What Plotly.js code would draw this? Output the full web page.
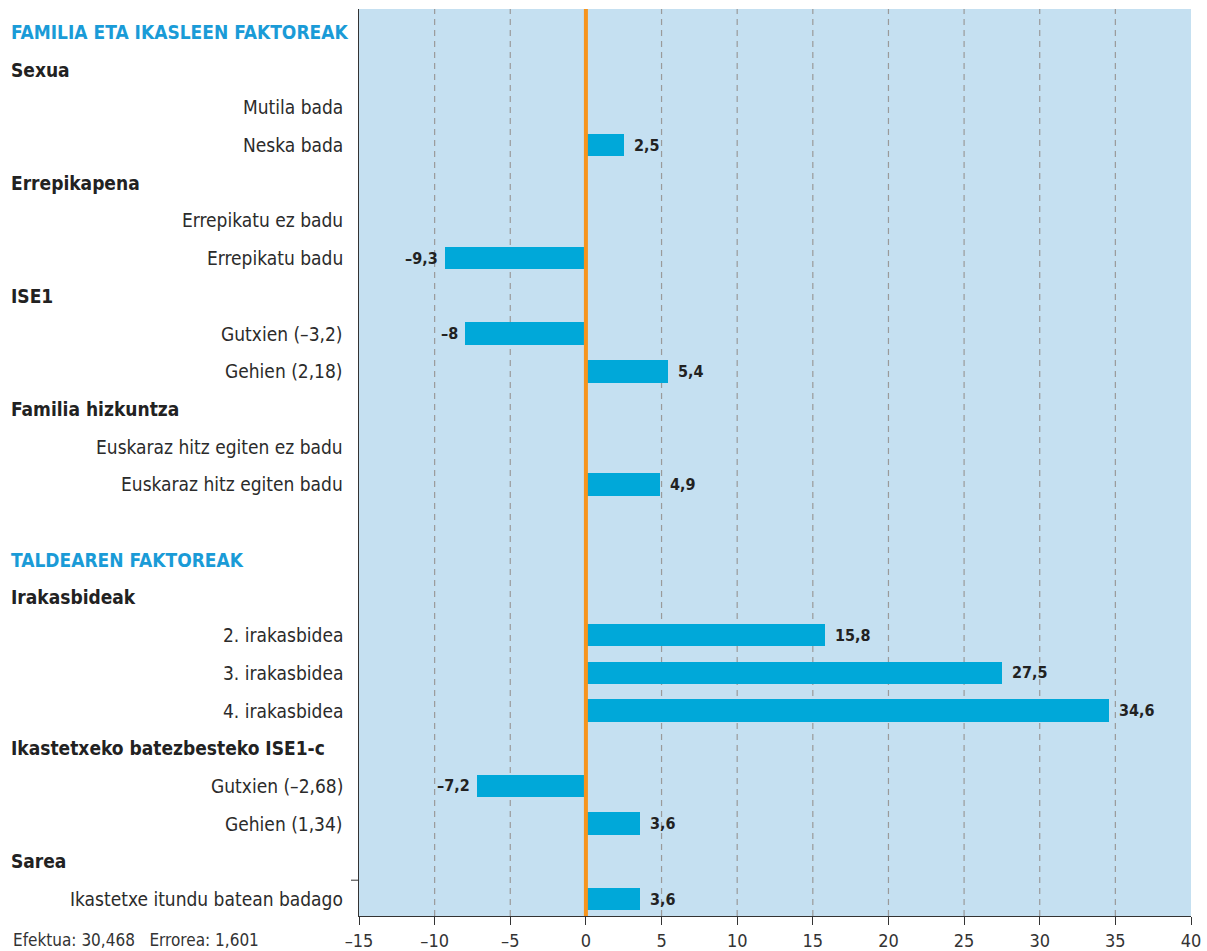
<!DOCTYPE html>
<html>
<head>
<meta charset="utf-8">
<script src="https://cdn.plot.ly/plotly-3.0.1.min.js"></script>
<style>html,body{margin:0;padding:0;background:#fff;}#chart{width:1207px;height:951px;}</style>
</head>
<body>
<div id="chart"></div>
<script>
// Row labels (top to bottom) and their kinds
const rowLabels = [
  "FAMILIA ETA IKASLEEN FAKTOREAK", "Sexua", "Mutila bada", "Neska bada",
  "Errepikapena", "Errepikatu ez badu", "Errepikatu badu",
  "ISE1", "Gutxien (–3,2)", "Gehien (2,18)",
  "Familia hizkuntza", "Euskaraz hitz egiten ez badu", "Euskaraz hitz egiten badu",
  "",
  "TALDEAREN FAKTOREAK", "Irakasbideak", "2. irakasbidea", "3. irakasbidea", "4. irakasbidea",
  "Ikastetxeko batezbesteko ISE1-c", "Gutxien (–2,68)", "Gehien (1,34)",
  "Sarea", "Ikastetxe itundu batean badago"
];
const rowKinds = [
  "section", "group", "item", "item",
  "group", "item", "item",
  "group", "item", "item",
  "group", "item", "item",
  "blank",
  "section", "group", "item", "item", "item",
  "group", "item", "item",
  "group", "item"
];
const effectValues = [
  null, null, null, 2.5,
  null, null, -9.3,
  null, -8, 5.4,
  null, null, 4.9,
  null,
  null, null, 15.8, 27.5, 34.6,
  null, -7.2, 3.6,
  null, 3.6
];
const xTickVals = [-15, -10, -5, 0, 5, 10, 15, 20, 25, 30, 35, 40];
const footnote = "Efektua: 30,468   Errorea: 1,601";

const FONT = '"Liberation Sans Narrow", "DejaVu Sans Condensed", "Arial Narrow", sans-serif';
const fmt = v => String(v).replace('.', ',').replace('-', '–');

const barY = [], barX = [];
effectValues.forEach((v, i) => { if (v !== null) { barY.push(i); barX.push(v); } });

const trace = {
  type: 'bar', orientation: 'h',
  x: barX, y: barY, width: 0.6,
  marker: {color: '#00a8d9', line: {width: 0}},
  hoverinfo: 'skip'
};

const annotations = [];
rowLabels.forEach((lab, i) => {
  const k = rowKinds[i];
  if (k === 'blank') return;
  if (k === 'item') {
    annotations.push({xref: 'paper', yref: 'y', x: 0, y: i, xanchor: 'right', yanchor: 'middle',
      xshift: -14, text: lab, showarrow: false, font: {family: FONT, size: 19, color: '#2b2b2b'}});
  } else {
    annotations.push({xref: 'paper', yref: 'y', x: (9 - 359) / 832, y: i, xanchor: 'left', yanchor: 'middle',
      text: '<b>' + lab + '</b>', showarrow: false,
      font: {family: FONT, size: 19, color: k === 'section' ? '#1a9bd7' : '#222'}});
  }
});
barY.forEach((y, j) => {
  const v = barX[j];
  annotations.push({xref: 'x', yref: 'y', x: v, y: y, xanchor: v < 0 ? 'right' : 'left', yanchor: 'middle',
    xshift: v < 0 ? -5 : 8, text: '<b>' + fmt(v) + '</b>', showarrow: false,
    font: {family: FONT, size: 16, color: '#222'}});
});
annotations.push({xref: 'paper', yref: 'paper', x: (11 - 359) / 832, y: 0, yshift: -24, xanchor: 'left', yanchor: 'middle',
  text: footnote.replace(/ {3}/, '&nbsp;&nbsp;&nbsp;'), showarrow: false, font: {family: FONT, size: 17, color: '#333'}});

const shapes = [];
xTickVals.forEach(v => {
  if (v === -15 || v === 0 || v === 40) return;
  shapes.push({type: 'line', xref: 'x', yref: 'paper', x0: v, x1: v, y0: 0, y1: 1,
    line: {color: '#9a9a9a', width: 1.2, dash: '6px,5px'}, layer: 'below'});
});
shapes.push({type: 'line', xref: 'x', yref: 'paper', x0: 0, x1: 0, y0: 0, y1: 1,
  line: {color: '#f7941d', width: 4}, layer: 'above'});
shapes.push({type: 'line', xref: 'paper', yref: 'y', x0: -8 / 832, x1: 0, y0: 22.5, y1: 22.5,
  line: {color: '#333', width: 1}});

const layout = {
  width: 1207, height: 951,
  margin: {l: 359, r: 16, t: 9, b: 35},
  paper_bgcolor: '#ffffff', plot_bgcolor: '#c5e0f1',
  showlegend: false,
  font: {family: FONT, color: '#333'},
  xaxis: {
    range: [-15, 40], tickvals: xTickVals, ticktext: xTickVals.map(fmt),
    showgrid: false, zeroline: false,
    ticks: 'outside', ticklen: 8, tickcolor: '#333', tickwidth: 1,
    showline: true, linecolor: '#333', linewidth: 1, ticklabelstandoff: 0,
    tickfont: {family: FONT, size: 18, color: '#333'}, fixedrange: true
  },
  yaxis: {
    range: [23.45, -0.61], showticklabels: false, showgrid: false, zeroline: false,
    showline: true, linecolor: '#333', linewidth: 1.5, ticks: '', fixedrange: true
  },
  bargap: 0,
  annotations: annotations,
  shapes: shapes
};

Plotly.newPlot('chart', [trace], layout, {displayModeBar: false, staticPlot: true});
</script>
</body>
</html>
